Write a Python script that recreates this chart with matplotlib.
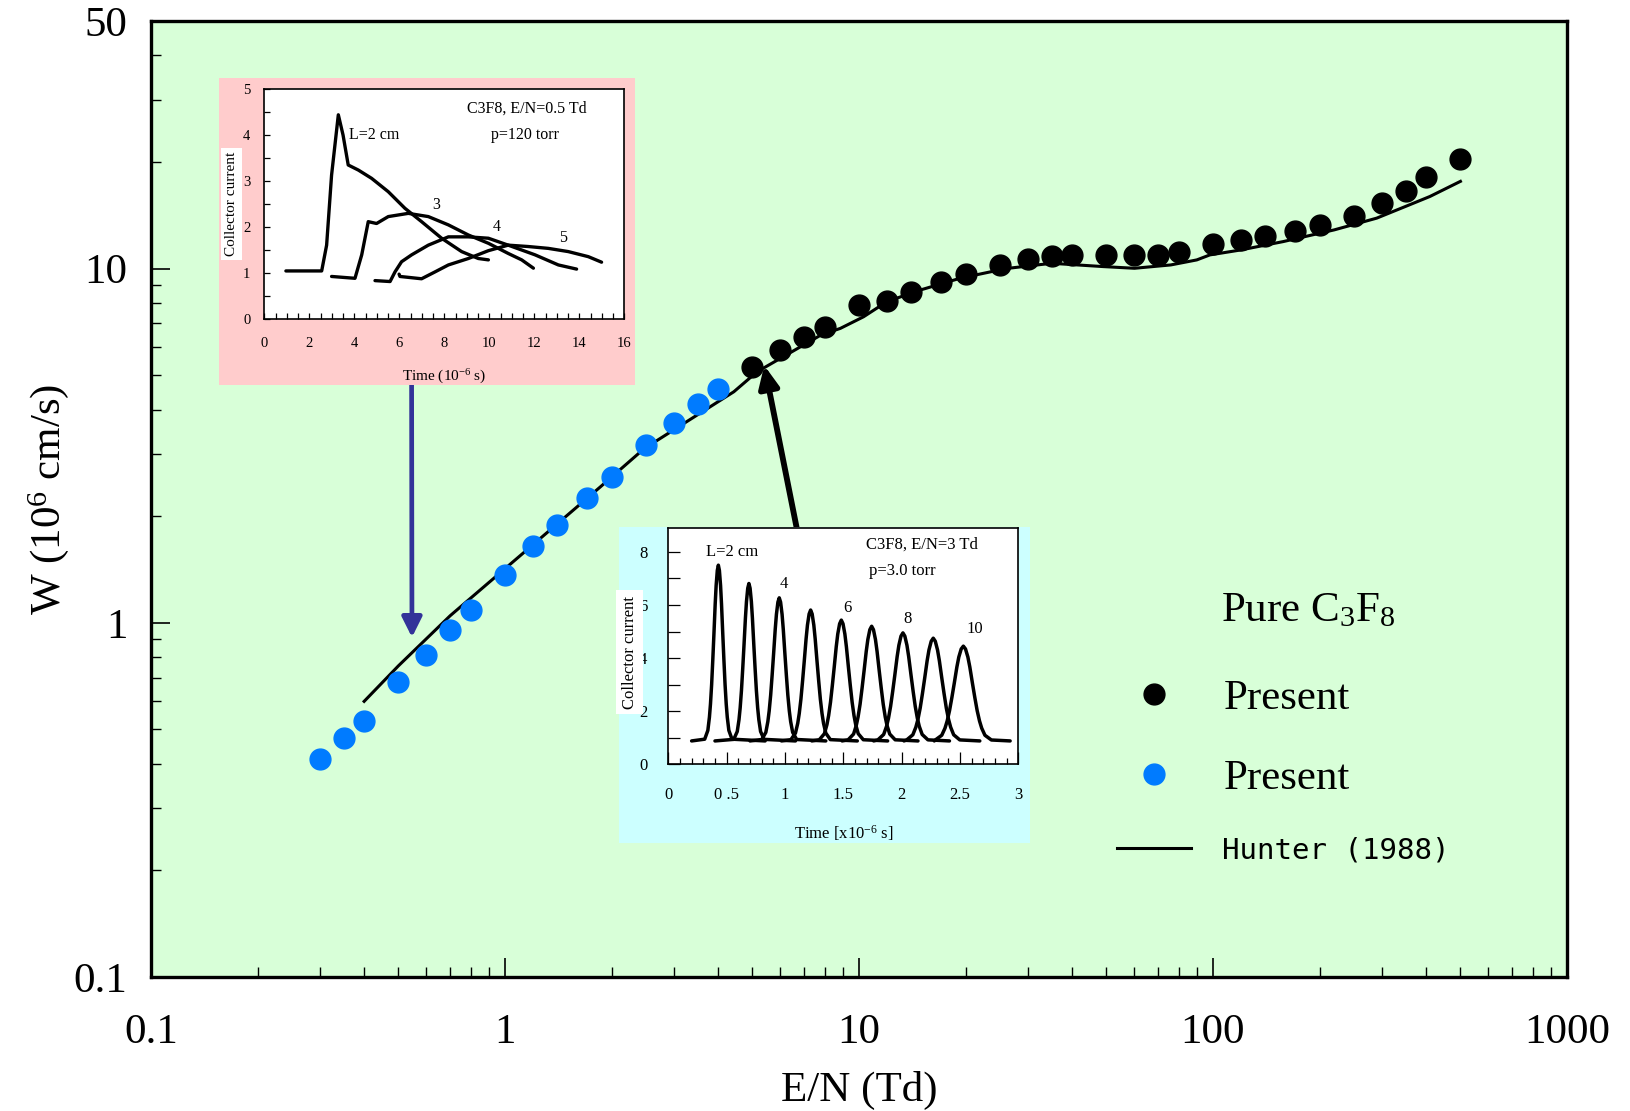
import matplotlib
matplotlib.use('Agg')
import matplotlib.pyplot as plt
from matplotlib.patches import Rectangle
from matplotlib.ticker import FixedLocator, MultipleLocator, NullFormatter

plt.rcParams['font.family'] = ['Liberation Serif', 'DejaVu Serif']
plt.rcParams['mathtext.fontset'] = 'custom'
plt.rcParams['mathtext.rm'] = 'Liberation Serif'
plt.rcParams['mathtext.it'] = 'Liberation Serif:italic'

# ---------------- main data ----------------
en_black = [5, 6, 7, 8, 10, 12, 14, 17, 20, 25, 30, 35, 40, 50, 60, 70, 80,
            100, 120, 140, 170, 200, 250, 300, 350, 400, 500]
w_black = [5.29, 5.9, 6.4, 6.84, 7.89, 8.12, 8.61, 9.19, 9.64, 10.24, 10.62,
           10.86, 10.93, 10.93, 10.89, 10.93, 11.12, 11.72, 12.08, 12.37,
           12.73, 13.24, 14.1, 15.3, 16.6, 18.1, 20.4]
en_blue = [0.3, 0.35, 0.4, 0.5, 0.6, 0.7, 0.8, 1.0, 1.2, 1.4, 1.7, 2.0, 2.5,
           3.0, 3.5, 4.0]
w_blue = [0.412, 0.472, 0.529, 0.68, 0.811, 0.953, 1.084, 1.366, 1.65, 1.89,
          2.25, 2.58, 3.18, 3.67, 4.15, 4.56]
en_hunter = [0.4, 0.5, 0.7, 1.86, 2.47, 4.43, 5.15, 7.8, 8.86, 10.3, 12, 14.9,
             19.3, 26, 35, 49, 60, 76, 90, 98, 120, 158, 220, 290, 350, 410, 500]
w_hunter = [0.60, 0.756, 1.047, 2.42, 3.10, 4.49, 5.11, 6.49, 6.78, 7.31, 8.07,
            8.70, 9.39, 10.0, 10.35, 10.13, 10.02, 10.24, 10.58, 10.93, 11.29,
            11.92, 12.86, 13.88, 14.98, 15.98, 17.63]

x_ticks = [0.1, 1, 10, 100, 1000]
x_tick_labels = ['0.1', '1', '10', '100', '1000']
y_ticks = [0.1, 1, 10, 50]
y_tick_labels = ['0.1', '1', '10', '50']
legend_labels = ['Present', 'Present', 'Hunter (1988)']

# ---------------- inset 1 (E/N = 0.5 Td) ----------------
l2_t = [0.96, 2.55, 2.77, 2.99, 3.29, 3.5, 3.73, 4.18, 4.77, 5.51, 6.25, 6.99, 7.88, 8.77, 9.51, 9.96]
l2_i = [1.05, 1.05, 1.61, 3.13, 4.44, 4.0, 3.35, 3.24, 3.06, 2.77, 2.41, 2.12, 1.76, 1.47, 1.32, 1.29]
l3_t = [2.99, 4.03, 4.33, 4.62, 4.99, 5.51, 6.4, 7.29, 8.18, 9.07, 9.96, 10.84, 11.44, 11.96]
l3_i = [0.93, 0.89, 1.40, 2.12, 2.08, 2.23, 2.30, 2.23, 2.05, 1.83, 1.65, 1.43, 1.29, 1.11]
l4_t = [4.92, 5.59, 5.81, 6.1, 6.55, 7.29, 8.18, 9.07, 9.96, 10.84, 12.03, 13.07, 13.88]
l4_i = [0.84, 0.82, 1.03, 1.25, 1.40, 1.61, 1.79, 1.79, 1.76, 1.61, 1.40, 1.18, 1.09]
l5_t = [5.99, 6.03, 6.99, 7.59, 8.18, 9.07, 9.96, 10.84, 11.73, 12.62, 13.51, 14.4, 14.99]
l5_i = [0.98, 0.93, 0.88, 1.03, 1.18, 1.32, 1.49, 1.61, 1.58, 1.54, 1.47, 1.36, 1.24]

# ---------------- inset 2 (E/N = 3 Td) ----------------
pulse_centre = [0.429, 0.691, 0.951, 1.220, 1.483, 1.743, 2.011, 2.271, 2.529]
pulse_peak = [7.50, 6.81, 6.27, 5.81, 5.43, 5.20, 4.95, 4.75, 4.45]
pulse_fwhm = [0.09, 0.10, 0.115, 0.13, 0.145, 0.155, 0.165, 0.175, 0.185]
pulse_start = [0.20, 0.40, 0.70, 0.97, 1.23, 1.49, 1.76, 2.02, 2.28]
pulse_end = [0.83, 1.09, 1.35, 1.62, 1.88, 2.14, 2.41, 2.67, 2.93]
pulse_base = 0.88
# pulse profile (offset in FWHM units, relative height)
profile_dx = [-1.3, -1.0, -0.85, -0.75, -0.64, -0.53, -0.42, -0.3, -0.21, -0.1, 0,
              0.1, 0.21, 0.3, 0.42, 0.53, 0.64, 0.75, 0.85, 1.0, 1.3]
profile_rel = [0.01, 0.06, 0.135, 0.21, 0.32, 0.46, 0.61, 0.78, 0.885, 0.97, 1.0,
               0.97, 0.885, 0.78, 0.61, 0.46, 0.32, 0.21, 0.135, 0.06, 0.01]

W, H = 1630, 1111
fig = plt.figure(figsize=(W / 100, H / 100), dpi=100)


def fr(x0, y0, x1, y1):
    return [x0 / W, 1 - y1 / H, (x1 - x0) / W, (y1 - y0) / H]


# ---------------- main axes ----------------
ax = fig.add_axes(fr(151, 21, 1567, 977))
ax.set_facecolor('#d8ffd8')
ax.set_xscale('log')
ax.set_yscale('log')
ax.set_xlim(0.1, 1000)
ax.set_ylim(0.1, 50)

h_line, = ax.plot(en_hunter, w_hunter, color='black', lw=2.2, zorder=2)
h_black, = ax.plot(en_black, w_black, 'o', color='black', ms=15, ls='none', zorder=3)
h_blue, = ax.plot(en_blue, w_blue, 'o', color='#007bff', ms=15, ls='none', zorder=3)

ax.xaxis.set_major_locator(FixedLocator(x_ticks))
ax.set_xticklabels(x_tick_labels)
ax.yaxis.set_major_locator(FixedLocator(y_ticks))
ax.set_yticklabels(y_tick_labels)
xminor = [m * 10.0 ** e for e in range(-1, 3) for m in range(2, 10)]
yminor = [m * 10.0 ** e for e in range(-1, 1) for m in range(2, 10)] + [20, 30, 40]
ax.xaxis.set_minor_locator(FixedLocator(xminor))
ax.yaxis.set_minor_locator(FixedLocator(yminor))
ax.xaxis.set_minor_formatter(NullFormatter())
ax.yaxis.set_minor_formatter(NullFormatter())
ax.tick_params(which='both', direction='in', top=False, right=False)
ax.tick_params(which='major', length=14, width=1.2, labelsize=31)
ax.tick_params(which='minor', length=7, width=1.0)
ax.tick_params(axis='x', which='major', pad=26)
ax.tick_params(axis='y', which='major', pad=17)
for s in ax.spines.values():
    s.set_linewidth(2.4)

ax.set_xlabel('E/N (Td)', fontsize=31, labelpad=14)
ax.set_ylabel('W (10$^{6}$ cm/s)', fontsize=31, labelpad=2)

leg1 = ax.legend([h_black, h_blue], legend_labels[:2],
                 loc='upper left', bbox_to_anchor=(1117 / W, 1 - 679 / H),
                 bbox_transform=fig.transFigure, frameon=False, fontsize=31,
                 handlelength=1.73, handletextpad=0.75, labelspacing=0.94,
                 borderpad=0, borderaxespad=0, numpoints=1)
ax.add_artist(leg1)
leg2 = ax.legend([h_line], legend_labels[2:],
                 loc='center left', bbox_to_anchor=(1117 / W, 1 - 850 / H),
                 bbox_transform=fig.transFigure, frameon=False,
                 prop={'family': 'DejaVu Sans Mono', 'size': 21},
                 handlelength=2.55, handletextpad=1.05,
                 borderpad=0, borderaxespad=0)
fig.text(1221 / W, 1 - 621 / H, 'Pure C$_3$F$_8$', fontsize=31,
         ha='left', va='baseline')

# arrows
ax.annotate('', xy=(0.546, 0.91), xycoords='data',
            xytext=(411.6, H - 385), textcoords='figure pixels',
            arrowprops=dict(arrowstyle='-|>,head_length=0.6,head_width=0.3',
                            color='#333399', lw=3.4, mutation_scale=20,
                            shrinkA=0, shrinkB=0), zorder=4)
ax.annotate('', xy=(5.4, 5.33), xycoords='data',
            xytext=(796.7, H - 528), textcoords='figure pixels',
            arrowprops=dict(arrowstyle='-|>,head_length=0.65,head_width=0.3',
                            color='black', lw=4.2, mutation_scale=20,
                            shrinkA=0, shrinkB=0), zorder=4)

# ---------------- inset 1 ----------------
fig.add_artist(Rectangle((219 / W, 1 - 385 / H), (635 - 219) / W, (385 - 78) / H,
                         transform=fig.transFigure, facecolor='#ffcccc',
                         edgecolor='none', zorder=1))
axp = fig.add_axes(fr(264.3, 89, 624.3, 319.3))
axp.set_zorder(2)
axp.set_facecolor('white')
for t, i in [(l2_t, l2_i), (l3_t, l3_i), (l4_t, l4_i), (l5_t, l5_i)]:
    axp.plot(t, i, color='black', lw=2.4, solid_capstyle='round',
             solid_joinstyle='round')
axp.set_xlim(0, 16)
axp.set_ylim(0, 5)
axp.xaxis.set_major_locator(MultipleLocator(2))
axp.xaxis.set_minor_locator(MultipleLocator(0.5))
axp.yaxis.set_major_locator(MultipleLocator(1))
axp.yaxis.set_minor_locator(MultipleLocator(0.5))
axp.tick_params(which='both', direction='in', length=4, width=0.9,
                top=False, right=False, labelsize=10.5)
axp.tick_params(axis='x', pad=13)
axp.tick_params(axis='y', pad=10)
for s in axp.spines.values():
    s.set_linewidth(1.2)
axp.set_xlabel('Time (10$^{-6}$ s)', fontsize=11)
axp.xaxis.set_label_coords(0.5, -0.21)
axp.set_ylabel('Collector current', fontsize=11,
               bbox=dict(facecolor='white', edgecolor='none', pad=3))
axp.yaxis.set_label_coords(-0.073, 0.5)
axp.text(3.75, 4.0, 'L=2 cm', fontsize=11.5, va='center', ha='left')
axp.text(11.66, 4.58, 'C3F8, E/N=0.5 Td', fontsize=11.5, va='center', ha='center')
axp.text(11.59, 4.0, 'p=120 torr', fontsize=11.5, va='center', ha='center')
axp.text(7.66, 2.48, '3', fontsize=11.5, va='center', ha='center')
axp.text(10.33, 2.01, '4', fontsize=11.5, va='center', ha='center')
axp.text(13.26, 1.76, '5', fontsize=11.5, va='center', ha='center')

# ---------------- inset 2 ----------------
fig.add_artist(Rectangle((619 / W, 1 - 843 / H), (1030 - 619) / W, (843 - 527) / H,
                         transform=fig.transFigure, facecolor='#ccffff',
                         edgecolor='none', zorder=1))
axb = fig.add_axes(fr(668.3, 528, 1018.3, 764.3))
axb.set_zorder(2)
axb.set_facecolor('white')
for c, pk, fw, t0, t1 in zip(pulse_centre, pulse_peak, pulse_fwhm, pulse_start, pulse_end):
    tx = [t0] + [c + d * fw for d in profile_dx] + [t1]
    iy = [pulse_base] + [pulse_base + r * (pk - pulse_base) for r in profile_rel] + [pulse_base]
    axb.plot(tx, iy, color='black', lw=2.5, solid_joinstyle='round',
             solid_capstyle='round')
axb.set_xlim(0, 3)
axb.set_ylim(0, 8.9)
axb.xaxis.set_major_locator(FixedLocator([0, 0.5, 1, 1.5, 2, 2.5, 3]))
axb.set_xticklabels(['0', '0 .5', '1', '1.5', '2', '2.5', '3'])
axb.xaxis.set_minor_locator(MultipleLocator(0.1))
axb.yaxis.set_major_locator(FixedLocator(list(range(9))))
axb.set_yticklabels(['0', '', '2', '', '4', '', '6', '', '8'])
axb.tick_params(which='both', direction='in', top=False, right=False, width=0.9)
axb.tick_params(which='major', length=8.5, labelsize=12)
axb.tick_params(which='minor', length=4.3)
axb.tick_params(axis='x', pad=16)
axb.tick_params(axis='y', pad=15)
for s in axb.spines.values():
    s.set_linewidth(1.2)
axb.set_xlabel('Time [x10$^{-6}$ s]', fontsize=12)
axb.xaxis.set_label_coords(0.5, -0.25)
axb.set_ylabel('Collector current', fontsize=12,
               bbox=dict(facecolor='white', edgecolor='none', pad=4))
axb.yaxis.set_label_coords(-0.088, 0.475)
axb.text(0.543, 7.98, 'L=2 cm', fontsize=12, va='center', ha='center')
axb.text(2.172, 8.29, 'C3F8, E/N=3 Td', fontsize=12, va='center', ha='center')
axb.text(2.006, 7.28, 'p=3.0 torr', fontsize=12, va='center', ha='center')
axb.text(0.986, 6.78, '4', fontsize=12, va='center', ha='center')
axb.text(1.538, 5.9, '6', fontsize=12, va='center', ha='center')
axb.text(2.05, 5.46, '8', fontsize=12, va='center', ha='center')
axb.text(2.63, 5.08, '10', fontsize=12, va='center', ha='center')

fig.savefig('out.png', dpi=100)
